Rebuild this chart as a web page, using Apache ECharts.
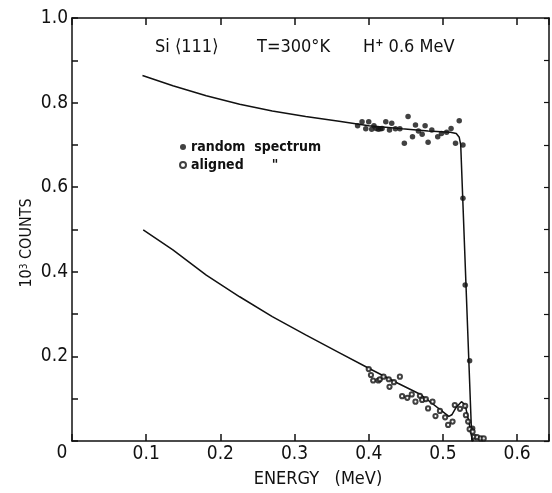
<!DOCTYPE html>
<html>
<head>
<meta charset="utf-8">
<script src="https://cdn.jsdelivr.net/npm/echarts@6/dist/echarts.min.js"></script>
<style>
html,body{margin:0;padding:0;background:#fff;}
#chart{width:552px;height:493px;}
</style>
</head>
<body>
<div id="chart"></div>
<script>
// ---- data ----
const xTickValues = [0, 0.1, 0.2, 0.3, 0.4, 0.5, 0.6];
const yTickLabels = ['0.2', '0.4', '0.6', '0.8', '1.0'];

const randomEnergy = [0.385,0.391,0.396,0.400,0.404,0.407,0.410,0.413,0.416,0.418,0.423,0.428,0.431,0.436,0.442,0.448,0.453,0.459,0.463,0.467,0.472,0.476,0.480,0.485,0.493,0.498,0.505,0.511,0.517,0.522,0.527,0.527,0.530,0.536,0.540];
const randomCounts = [0.745,0.755,0.738,0.755,0.737,0.745,0.739,0.737,0.738,0.739,0.755,0.735,0.751,0.738,0.738,0.704,0.767,0.719,0.747,0.733,0.725,0.745,0.706,0.735,0.719,0.727,0.730,0.739,0.704,0.757,0.700,0.574,0.369,0.190,0.030];

const alignedEnergy = [0.400,0.403,0.406,0.413,0.415,0.420,0.427,0.428,0.434,0.442,0.445,0.452,0.458,0.463,0.469,0.472,0.477,0.480,0.486,0.490,0.496,0.503,0.507,0.513,0.516,0.523,0.530,0.531,0.534,0.536,0.540,0.542,0.546,0.551,0.555];
const alignedCounts = [0.170,0.156,0.143,0.143,0.146,0.152,0.146,0.128,0.139,0.152,0.106,0.102,0.110,0.093,0.107,0.097,0.099,0.077,0.093,0.059,0.071,0.056,0.038,0.046,0.085,0.076,0.083,0.061,0.046,0.028,0.022,0.010,0.009,0.006,0.006];

const randomFitEnergy = [0.095,0.136,0.181,0.226,0.270,0.315,0.360,0.400,0.445,0.480,0.510,0.518,0.522,0.524,0.539,0.541];
const randomFitCounts = [0.864,0.840,0.816,0.796,0.780,0.767,0.756,0.745,0.738,0.733,0.730,0.727,0.718,0.700,0.000,0.000];

const alignedFitEnergy = [0.096,0.136,0.181,0.226,0.270,0.315,0.360,0.400,0.440,0.470,0.508,0.512,0.518,0.525,0.530,0.535,0.539,0.541];
const alignedFitCounts = [0.499,0.452,0.392,0.341,0.294,0.251,0.209,0.172,0.136,0.110,0.058,0.062,0.080,0.093,0.085,0.045,0.008,0.000];

const zip = (a, b) => a.map((v, i) => [v, b[i]]);

const FONT = '"DejaVu Sans Condensed", "Liberation Sans Narrow", "Liberation Sans", sans-serif';
const INK = '#111';

const chart = echarts.init(document.getElementById('chart'), null, {renderer: 'canvas'});

const isTenth = v => Math.abs(v * 10 - Math.round(v * 10)) < 1e-6;

const axisCommon = {
  type: 'value',
  splitLine: {show: false},
  axisLine: {show: true, onZero: false, lineStyle: {color: INK, width: 1.5}},
  axisTick: {show: true, inside: true, length: 7, lineStyle: {color: INK, width: 1.5}},
};

chart.setOption({
  animation: false,
  backgroundColor: '#fff',
  grid: {left: 72, right: 3, top: 18, bottom: 52, containLabel: false},
  xAxis: [
    Object.assign({}, axisCommon, {
      position: 'bottom', min: 0, max: 0.643, interval: 0.1,
      axisLabel: {
        margin: 4, color: INK, fontFamily: FONT, fontSize: 19,
        formatter: v => (v > 0 && isTenth(v) && xTickValues.some(t => Math.abs(t - v) < 1e-6)) ? v.toFixed(1) : ''
      }
    }),
    Object.assign({}, axisCommon, {
      position: 'top', min: 0, max: 0.643, interval: 0.1,
      axisLabel: {show: false}
    })
  ],
  yAxis: [
    Object.assign({}, axisCommon, {
      position: 'left', min: 0, max: 1, interval: 0.1,
      axisTick: {show: true, inside: true, length: 6, lineStyle: {color: INK, width: 1.5}},
      axisLabel: {
        margin: 4, color: INK, fontFamily: FONT, fontSize: 19,
        formatter: v => yTickLabels.indexOf(v.toFixed(1)) >= 0 ? v.toFixed(1) : ''
      }
    }),
    Object.assign({}, axisCommon, {
      position: 'right', min: 0, max: 1, interval: 0.1,
      axisTick: {show: true, inside: true, length: 5, lineStyle: {color: INK, width: 1.2}},
      axisLabel: {show: false}
    })
  ],
  legend: {
    orient: 'vertical', left: 179, top: 140, padding: 0, itemWidth: 6, itemHeight: 6, itemGap: 4,
    data: [
      {name: 'random spectrum', icon: 'circle', itemStyle: {color: INK}},
      {name: 'aligned', icon: 'emptyCircle', itemStyle: {color: INK, borderColor: INK, borderWidth: 1}}
    ],
    textStyle: {
      color: INK, fontFamily: FONT, fontSize: 14, fontWeight: 'bold',
      rich: {
        t: {color: INK, fontFamily: FONT, fontSize: 14, fontWeight: 'bold'},
        d: {color: INK, fontFamily: FONT, fontSize: 14, fontWeight: 'bold', fontStyle: 'italic', padding: [0, 0, 0, 28]}
      }
    },
    formatter: name => name === 'aligned' ? '{t|aligned}{d|"}' : '{t|random  spectrum}'
  },
  series: [
    {
      name: 'random fit', type: 'line', data: zip(randomFitEnergy, randomFitCounts),
      showSymbol: false, symbol: 'none', smooth: false,
      lineStyle: {color: INK, width: 1.5}, z: 2, silent: true
    },
    {
      name: 'aligned fit', type: 'line', data: zip(alignedFitEnergy, alignedFitCounts),
      showSymbol: false, symbol: 'none', smooth: false,
      lineStyle: {color: INK, width: 1.5}, z: 2, silent: true
    },
    {
      name: 'random spectrum', type: 'scatter', data: zip(randomEnergy, randomCounts),
      symbol: 'circle', symbolSize: 5.5,
      itemStyle: {color: INK}, z: 3
    },
    {
      name: 'aligned', type: 'scatter', data: zip(alignedEnergy, alignedCounts),
      symbol: 'emptyCircle', symbolSize: 4.2,
      itemStyle: {color: INK, borderColor: INK, borderWidth: 1.1}, z: 3
    }
  ],
  graphic: [
    {type: 'text', x: 62, y: 453, style: {text: '0', font: '19px ' + FONT, fill: INK, textAlign: 'center', textVerticalAlign: 'middle'}},
    {type: 'text', x: 155, y: 47, style: {text: 'Si \u27E8111\u27E9', font: '18px ' + FONT, fill: INK, textAlign: 'left', textVerticalAlign: 'middle'}},
    {type: 'text', x: 257, y: 47, style: {text: 'T=300\u00B0K', font: '18px ' + FONT, fill: INK, textAlign: 'left', textVerticalAlign: 'middle'}},
    {type: 'text', x: 363, y: 47, style: {
      text: '{n|H}{s|+}{n| 0.6 MeV}', fill: INK, textAlign: 'left', textVerticalAlign: 'middle',
      rich: {
        n: {fontFamily: FONT, fontSize: 18, fill: INK},
        s: {fontFamily: FONT, fontSize: 11, fill: INK, fontWeight: 'bold', verticalAlign: 'top'}
      }
    }},
    {type: 'text', x: 318, y: 479, style: {text: 'ENERGY   (MeV)', font: '18px ' + FONT, fill: INK, textAlign: 'center', textVerticalAlign: 'middle'}},
    {type: 'text', x: 27, y: 243, rotation: Math.PI / 2, style: {
      text: '{n|10}{s|3}{n| COUNTS}', fill: INK, textAlign: 'center', textVerticalAlign: 'middle',
      rich: {
        n: {fontFamily: FONT, fontSize: 16, fill: INK},
        s: {fontFamily: FONT, fontSize: 10, fill: INK, verticalAlign: 'top'}
      }
    }}
  ]
});
</script>
</body>
</html>
